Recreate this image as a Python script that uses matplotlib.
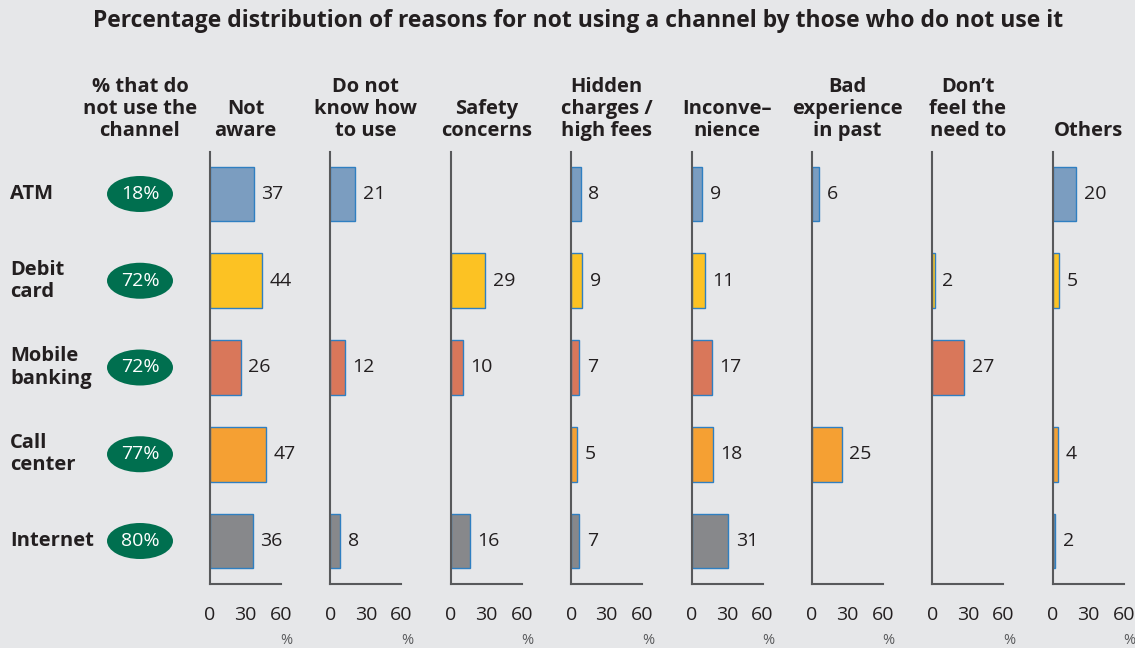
import matplotlib.pyplot as plt
from matplotlib.patches import Ellipse

plt.rcParams['font.family'] = ['Open Sans', 'DejaVu Sans']

W, H = 1135, 648
BG = '#e6e7e9'
INK = '#231f20'

channels = ['ATM', 'Debit\ncard', 'Mobile\nbanking', 'Call\ncenter', 'Internet']
non_users = ['18%', '72%', '72%', '77%', '80%']
channel_colors = ['#7b9dc0', '#fcc223', '#d9775a', '#f5a033', '#87888b']

reasons = ['Not\naware', 'Do not\nknow how\nto use', 'Safety\nconcerns',
           'Hidden\ncharges /\nhigh fees', 'Inconve\u2013\nnience',
           'Bad\nexperience\nin past', 'Don\u2019t\nfeel the\nneed to', 'Others']

# one list per reason, in channel order (None = no bar)
not_aware = [37, 44, 26, 47, 36]
dont_know = [21, None, 12, None, 8]
safety = [None, 29, 10, None, 16]
hidden_fees = [8, 9, 7, 5, 7]
inconvenience = [9, 11, 17, 18, 31]
bad_experience = [6, None, None, 25, None]
no_need = [None, 2, 27, None, None]
others = [20, 5, None, 4, 2]
values = [not_aware, dont_know, safety, hidden_fees, inconvenience,
          bad_experience, no_need, others]

ticks = [0, 30, 60]


def fx(x):
    return x / W


def fy(y):
    return 1 - y / H


fig = plt.figure(figsize=(W / 100, H / 100), dpi=100, facecolor=BG)

fig.text(fx(578), fy(21), 'Percentage distribution of reasons for not using a channel by those who do not use it',
         ha='center', va='center', fontsize=16.5, fontweight='bold', color=INK)

# left columns: channel names and share of non-users
fig.text(fx(140), fy(141), '% that do\nnot use the\nchannel', ha='center', va='bottom',
         fontsize=14.5, fontweight='bold', color=INK, linespacing=1.15)

row_top, row_step = 194, 86.75
for i, (name, share) in enumerate(zip(channels, non_users)):
    y = row_top + i * row_step
    fig.text(fx(10), fy(y), name, ha='left', va='center', fontsize=14.5,
             fontweight='bold', color=INK, linespacing=1.15)
    fig.patches.append(Ellipse((fx(140), fy(y)), fx(66), 36 / H, transform=fig.transFigure,
                               facecolor='#006f4f', edgecolor='none'))
    fig.text(fx(140), fy(y), share, ha='center', va='center', fontsize=14, color='white')

# one small bar panel per reason
axis_left, axis_step, axis_w = 210, 120.4, 71
top_px, bottom_px = 152, 584
ylim_top = -(row_top - top_px) / row_step
ylim_bot = len(channels) - 1 + (bottom_px - (row_top + (len(channels) - 1) * row_step)) / row_step

for k, (reason, vals) in enumerate(zip(reasons, values)):
    x0 = axis_left + k * axis_step
    ax = fig.add_axes([fx(x0), fy(bottom_px), axis_w / W, (bottom_px - top_px) / H])
    ax.set_facecolor('none')
    ax.set_xlim(0, 60)
    ax.set_ylim(ylim_bot, ylim_top)
    for i, v in enumerate(vals):
        if v is None:
            continue
        ax.barh(i, v, height=0.63, left=0, color=channel_colors[i],
                edgecolor='#2f7fc1', linewidth=1.0, zorder=2)
        ax.text(v + 6.5, i, str(v), ha='left', va='center', fontsize=14, color=INK)
    for side in ['top', 'right']:
        ax.spines[side].set_visible(False)
    for side in ['left', 'bottom']:
        ax.spines[side].set_color('#58595b')
        ax.spines[side].set_linewidth(1.5)
        ax.spines[side].set_zorder(3)
    ax.set_yticks([])
    ax.set_xticks(ticks)
    ax.set_xticklabels([str(t) for t in ticks])
    ax.tick_params(axis='x', length=0, pad=16, labelsize=14, labelcolor=INK)
    ax.text(1.08, -56 / (bottom_px - top_px), '%', transform=ax.transAxes, ha='center',
            va='center', fontsize=10.5, color='#58595b')
    fig.text(fx(x0 + axis_w / 2), fy(141), reason, ha='center', va='bottom',
             fontsize=14.5, fontweight='bold', color=INK, linespacing=1.15)

fig.savefig('out.png', dpi=100, facecolor=BG)
